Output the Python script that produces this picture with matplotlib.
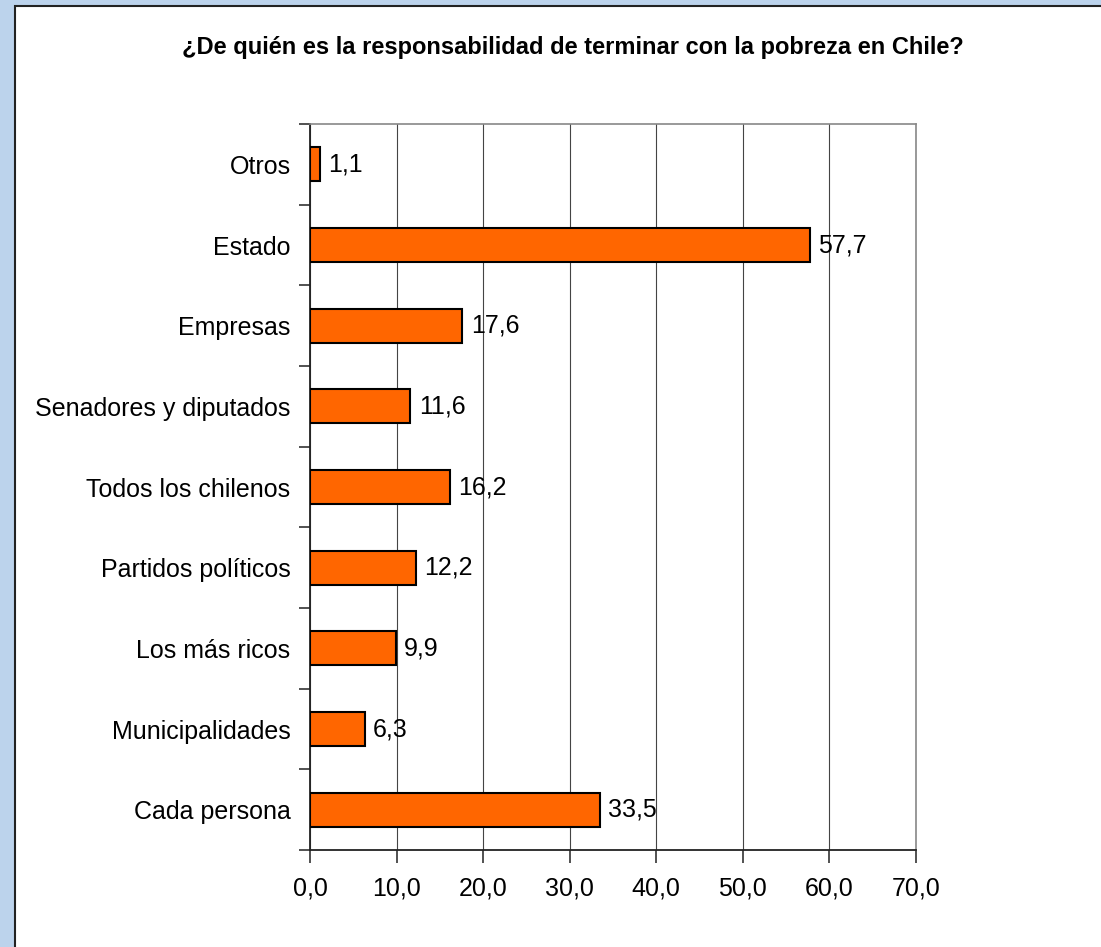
import matplotlib.pyplot as plt
from matplotlib.patches import Rectangle
from matplotlib.ticker import FuncFormatter, FixedLocator

plt.rcParams["font.family"] = ["Liberation Sans", "DejaVu Sans"]

title = "¿De quién es la responsabilidad de terminar con la pobreza en Chile?"
categories = ["Cada persona", "Municipalidades", "Los más ricos",
              "Partidos políticos", "Todos los chilenos",
              "Senadores y diputados", "Empresas", "Estado", "Otros"]
values = [33.5, 6.3, 9.9, 12.2, 16.2, 11.6, 17.6, 57.7, 1.1]
x_ticks = [0, 10, 20, 30, 40, 50, 60, 70]

fig = plt.figure(figsize=(11.01, 9.47), dpi=100)
fig.patch.set_facecolor("#bcd3ec")

# white panel with a dark border, like the slide frame
panel = Rectangle((15 / 1101, -0.02), 1.0, 1 - 6 / 947 + 0.02,
                  transform=fig.transFigure, facecolor="white",
                  edgecolor="#222222", linewidth=1.5, zorder=-5)
fig.add_artist(panel)

ax = fig.add_axes([310 / 1101, 1 - 850 / 947, (916 - 310) / 1101, (850 - 124) / 947])
ax.set_facecolor("white")

pos = list(range(len(categories)))
ax.barh(pos, values, height=0.42, color="#ff6600", edgecolor="black",
        linewidth=1.5, zorder=3)

for p, v in zip(pos, values):
    ax.annotate(f"{v:.1f}".replace(".", ","), (v, p), xytext=(6, 0),
                textcoords="offset points", va="center", ha="left",
                fontsize=18, zorder=4)

ax.set_xlim(0, 70)
ax.set_ylim(-0.5, len(categories) - 0.5)
ax.set_xticks(x_ticks)
ax.xaxis.set_major_formatter(FuncFormatter(lambda x, _: f"{x:.1f}".replace(".", ",")))
ax.grid(axis="x", color="#444444", linewidth=0.8, zorder=1)

ax.set_yticks(pos)
ax.set_yticklabels(categories)
ax.yaxis.set_minor_locator(FixedLocator([p - 0.5 for p in pos] + [len(pos) - 0.5]))
ax.tick_params(axis="y", which="major", length=0, pad=14, labelsize=18)
ax.tick_params(axis="y", which="minor", length=8, width=1.2, color="#333333")
ax.tick_params(axis="x", length=9, width=1.2, color="#333333", pad=10, labelsize=18)

for s in ["left", "bottom"]:
    ax.spines[s].set_color("#222222")
    ax.spines[s].set_linewidth(1.3)
for s in ["top", "right"]:
    ax.spines[s].set_color("#888888")
    ax.spines[s].set_linewidth(1.2)

fig.text(573 / 1101, 1 - 47 / 947, title, ha="center", va="center",
         fontsize=17, fontweight="bold")

fig.savefig("out.png", dpi=100, facecolor=fig.get_facecolor())
